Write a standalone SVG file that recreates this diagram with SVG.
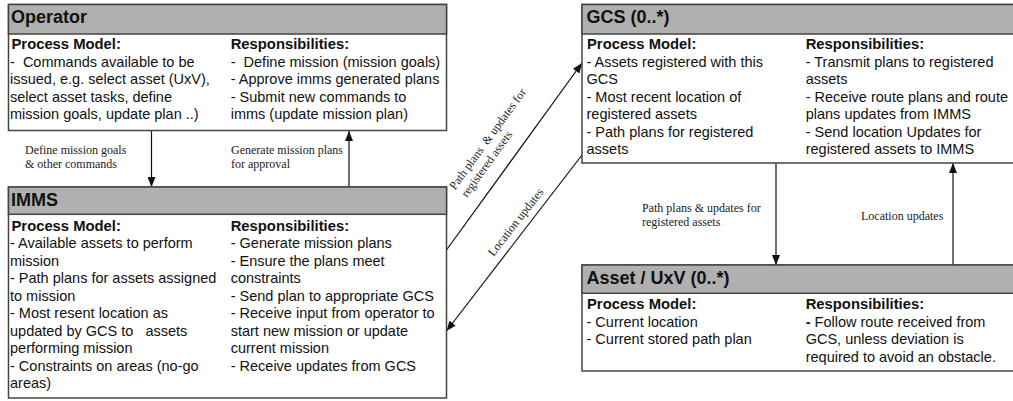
<svg xmlns="http://www.w3.org/2000/svg" width="1013" height="401" viewBox="0 0 1013 401">
<style>
.box{fill:#ffffff;stroke:#444444;stroke-width:1.5}
.hdr{fill:#b0b0b0;stroke:#444444;stroke-width:1.5}
.title{font-family:"Liberation Sans",Arial,sans-serif;font-size:18px;font-weight:bold;fill:#111}
.h{font-family:"Liberation Sans",Arial,sans-serif;font-size:14.8px;font-weight:bold;fill:#111}
.t{font-family:"Liberation Sans",Arial,sans-serif;font-size:14.5px;fill:#111;white-space:pre}
.lbl{font-family:"Liberation Serif","Times New Roman",serif;font-size:12px;fill:#222;white-space:pre}
.conn{stroke:#111;stroke-width:1.2;fill:none;marker-end:url(#arr)}
</style>
<defs>
<marker id="arr" markerUnits="userSpaceOnUse" markerWidth="10" markerHeight="8" refX="10" refY="4" orient="auto">
<path d="M0,0 L10,4 L0,8 z" fill="#111"/>
</marker>
</defs>
<rect width="1013" height="401" fill="#ffffff"/>

<g id="connectors">
<line class="conn" x1="151.5" y1="131" x2="151.5" y2="187"/>
<line class="conn" x1="349" y1="187" x2="349" y2="131"/>
<line class="conn" x1="446.5" y1="250" x2="582" y2="63"/>
<line class="conn" x1="582" y1="155" x2="446.5" y2="331"/>
<line class="conn" x1="776" y1="163" x2="776" y2="265"/>
<line class="conn" x1="953" y1="265" x2="953" y2="163"/>
<text class="lbl" x="25" y="154.3">Define mission goals</text>
<text class="lbl" x="25" y="168">&amp; other commands</text>
<text class="lbl" x="231" y="154.3">Generate mission plans</text>
<text class="lbl" x="231" y="168">for approval</text>
<text class="lbl" x="642" y="212.3">Path plans &amp; updates for</text>
<text class="lbl" x="642" y="226">registered assets</text>
<text class="lbl" x="861" y="220">Location updates</text>
<g transform="translate(455,190.5) rotate(-54)">
<text class="lbl" x="0" y="0">Path plans  &amp; updates for</text>
<text class="lbl" x="1" y="14">registered assets</text>
</g>
<g transform="translate(493.5,257) rotate(-52)">
<text class="lbl" x="0" y="0">Location updates</text>
</g>
</g>

<g id="operator">
<rect class="box" x="8.5" y="4.5" width="438" height="126"/>
<rect class="hdr" x="8.5" y="4.5" width="438" height="29.5"/>
<text class="title" x="11" y="23">Operator</text>
<text class="h" x="11.5" y="49">Process Model:</text>
<text class="t" x="10" y="66.5">-  Commands available to be</text>
<text class="t" x="10" y="84">issued, e.g. select asset (UxV),</text>
<text class="t" x="10" y="101.5">select asset tasks, define</text>
<text class="t" x="10" y="119">mission goals, update plan ..)</text>
<text class="h" x="230.7" y="49">Responsibilities:</text>
<text class="t" x="230.7" y="66.5">-  Define mission (mission goals)</text>
<text class="t" x="230.7" y="84">- Approve imms generated plans</text>
<text class="t" x="230.7" y="101.5">- Submit new commands to</text>
<text class="t" x="230.7" y="119">imms (update mission plan)</text>
</g>

<g id="imms">
<rect class="box" x="8.5" y="187" width="438" height="211"/>
<rect class="hdr" x="8.5" y="187" width="438" height="27.3"/>
<text class="title" x="11" y="205.5">IMMS</text>
<text class="h" x="11.5" y="230.7">Process Model:</text>
<text class="t" x="10" y="248.2">- Available assets to perform</text>
<text class="t" x="10" y="265.7">mission</text>
<text class="t" x="10" y="283.2">- Path plans for assets assigned</text>
<text class="t" x="10" y="300.7">to mission</text>
<text class="t" x="10" y="318.2">- Most resent location as</text>
<text class="t" x="10" y="335.7">updated by GCS to   assets</text>
<text class="t" x="10" y="353.2">performing mission</text>
<text class="t" x="10" y="370.7">- Constraints on areas (no-go</text>
<text class="t" x="10" y="388.2">areas)</text>
<text class="h" x="230.7" y="230.7">Responsibilities:</text>
<text class="t" x="230.7" y="248.2">- Generate mission plans</text>
<text class="t" x="230.7" y="265.7">- Ensure the plans meet</text>
<text class="t" x="230.7" y="283.2">constraints</text>
<text class="t" x="230.7" y="300.7">- Send plan to appropriate GCS</text>
<text class="t" x="230.7" y="318.2">- Receive input from operator to</text>
<text class="t" x="230.7" y="335.7">start new mission or update</text>
<text class="t" x="230.7" y="353.2">current mission</text>
<text class="t" x="230.7" y="370.7">- Receive updates from GCS</text>
</g>

<g id="gcs">
<rect class="box" x="582" y="4.5" width="436" height="158.5"/>
<rect class="hdr" x="582" y="4.5" width="436" height="29.5"/>
<text class="title" x="586.5" y="23">GCS (0..*)</text>
<text class="h" x="587" y="49">Process Model:</text>
<text class="t" x="586.5" y="66.5">- Assets registered with this</text>
<text class="t" x="586.5" y="84">GCS</text>
<text class="t" x="586.5" y="101.5">- Most recent location of</text>
<text class="t" x="586.5" y="119">registered assets</text>
<text class="t" x="586.5" y="136.5">- Path plans for registered</text>
<text class="t" x="586.5" y="154">assets</text>
<text class="h" x="805.7" y="49">Responsibilities:</text>
<text class="t" x="805.7" y="66.5">- Transmit plans to registered</text>
<text class="t" x="805.7" y="84">assets</text>
<text class="t" x="805.7" y="101.5">- Receive route plans and route</text>
<text class="t" x="805.7" y="119">plans updates from IMMS</text>
<text class="t" x="805.7" y="136.5">- Send location Updates for</text>
<text class="t" x="805.7" y="154">registered assets to IMMS</text>
</g>

<g id="asset">
<rect class="box" x="582" y="265" width="436" height="106"/>
<rect class="hdr" x="582" y="265" width="436" height="28.3"/>
<text class="title" x="586.5" y="283.5">Asset / UxV (0..*)</text>
<text class="h" x="587" y="309.3">Process Model:</text>
<text class="t" x="586.5" y="326.8">- Current location</text>
<text class="t" x="586.5" y="344.3">- Current stored path plan</text>
<text class="h" x="805.7" y="309.3">Responsibilities:</text>
<text class="t" x="805.7" y="326.8"><tspan font-weight="bold">-</tspan> Follow route received from</text>
<text class="t" x="805.7" y="344.3">GCS, unless deviation is</text>
<text class="t" x="805.7" y="361.8">required to avoid an obstacle.</text>
</g>
</svg>
